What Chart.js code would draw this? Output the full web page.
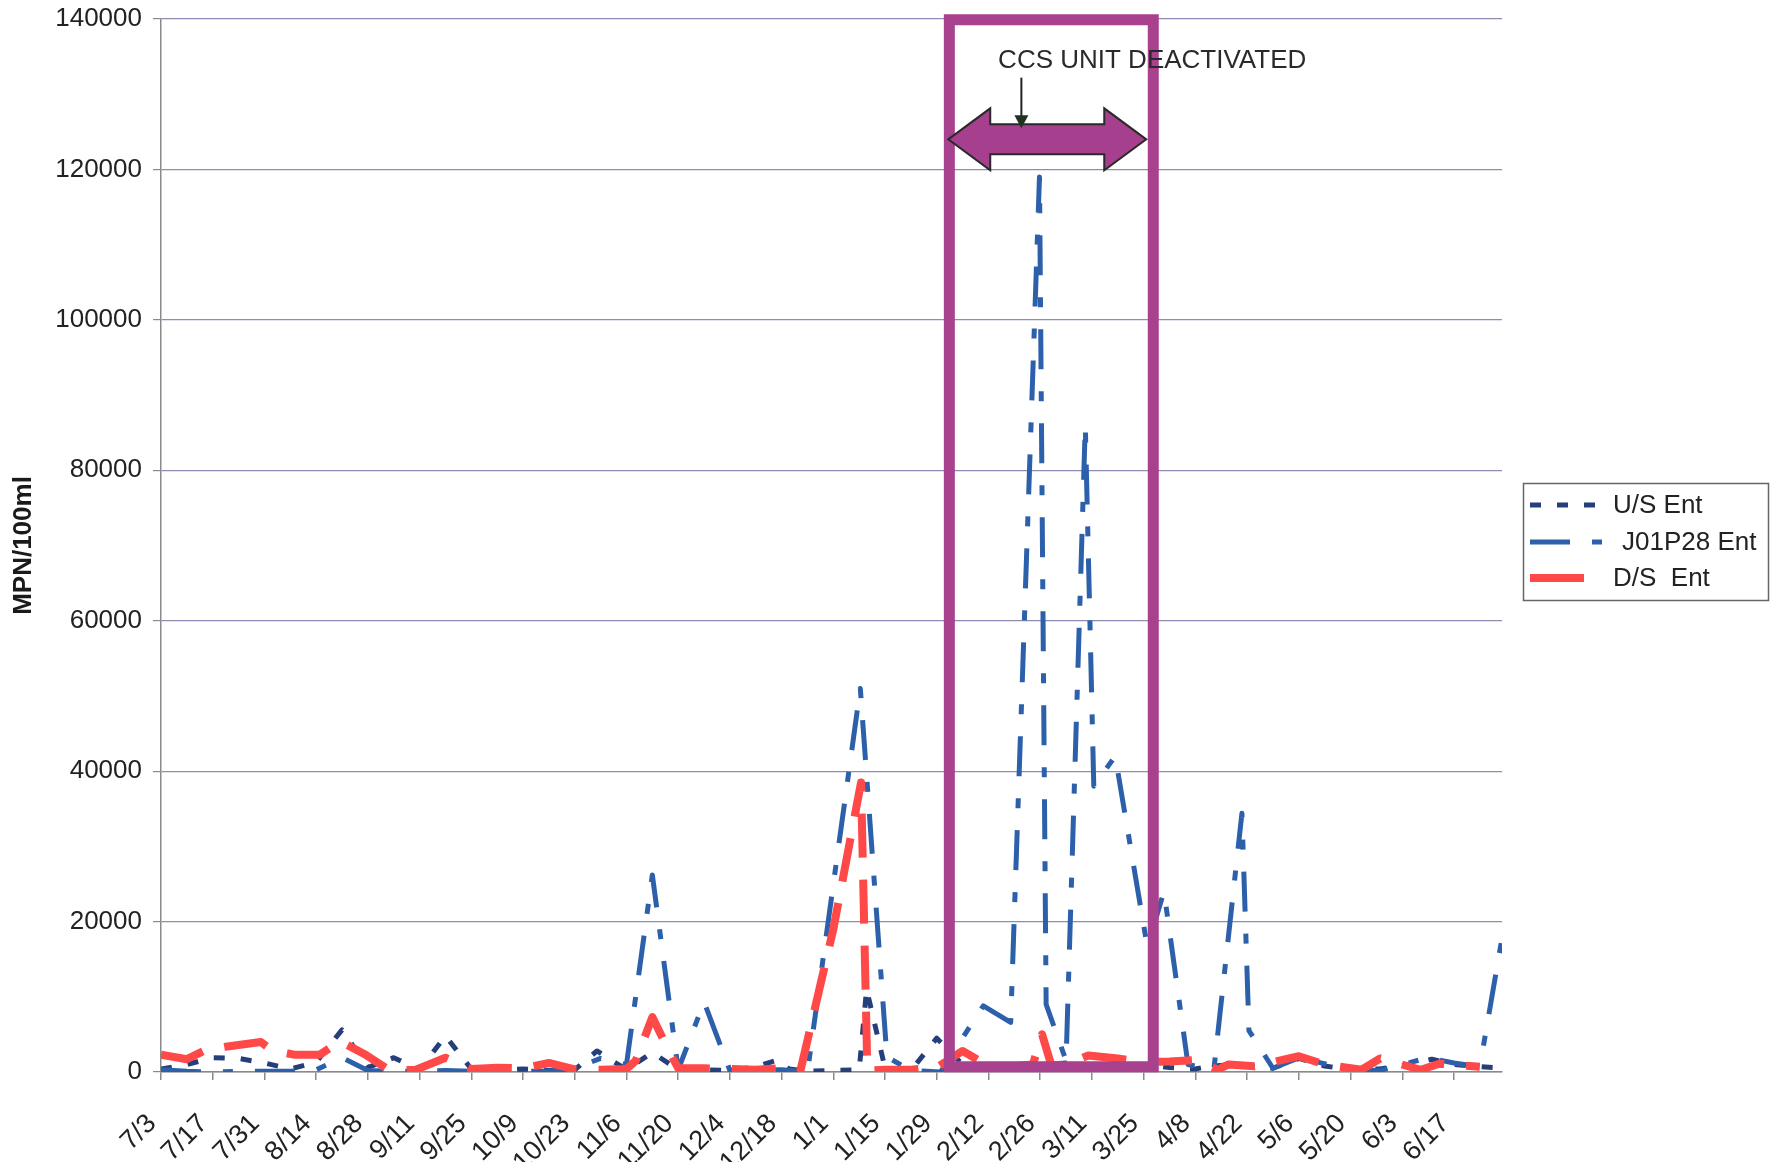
<!DOCTYPE html>
<html>
<head>
<meta charset="utf-8">
<script src="https://cdn.jsdelivr.net/npm/chart.js@4.4.1/dist/chart.umd.min.js"></script>
<style>
  html, body { margin: 0; padding: 0; background: #fff; }
  canvas { display: block; }
</style>
</head>
<body>
<canvas id="myChart" width="1775" height="1162"></canvas>
<script>
// x values are days counted from 7/3; tick labels every 14 days
var tickLabels = ["7/3", "7/17", "7/31", "8/14", "8/28", "9/11", "9/25", "10/9", "10/23", "11/6", "11/20", "12/4", "12/18",
    "1/1", "1/15", "1/29", "2/12", "2/26", "3/11", "3/25", "4/8", "4/22", "5/6", "5/20", "6/3", "6/17"];

var usDays = [0, 7, 14, 21, 28, 35, 42, 49, 56, 63, 70, 77, 84, 91, 98, 105, 112, 118, 126, 133, 140, 147, 154, 161, 167, 170,
    175, 182, 189, 191, 196, 203, 210, 217, 224, 231, 238, 245, 252, 259, 266, 273, 280, 284, 292, 301, 308, 315, 322, 330,
    337, 344, 350, 357, 363];
var usVals = [400, 1000, 1900, 1800, 1200, 400, 1300, 5600, 600, 1900, 300, 4800, 400, 200, 400, 200, 300, 2800, 300, 2600, 300,
    300, 200, 700, 1600, 400, 100, 200, 300, 11000, 500, 200, 4500, 1000, 800, 700, 900, 1200, 800, 1000, 1000, 600, 400, 800,
    1000, 500, 1800, 800, 300, 400, 900, 1700, 1000, 700, 500];

var jDays = [0, 7, 14, 21, 28, 35, 42, 49, 56, 63, 70, 77, 84, 91, 98, 105, 112, 119, 126, 133, 140, 147, 154, 161, 168, 175,
    189.3, 196.5, 203, 211, 222.6, 230, 237.8, 239.6, 245, 250.2, 252.5, 258.3, 267, 271.5, 278, 285, 292.6, 294.5, 301, 308,
    322, 330, 343, 350, 357, 363];
var jVals = [300, 100, 0, 100, 100, 100, 300, 1900, 200, 100, 100, 200, 100, 100, 100, 100, 500, 1800, 1000, 26200, 300, 9300,
    200, 300, 300, 0, 51000, 2000, 200, 0, 8800, 6600, 119000, 9000, 1500, 86000, 38000, 42000, 16600, 24000, 1000, 300, 34400,
    5500, 500, 1900, 300, 200, 1900, 1200, 700, 17800];

var dsDays = [0, 7, 12, 18, 27, 30, 36, 43, 48.5, 55, 62, 69, 77, 84, 91, 98, 105, 112, 119, 126, 128.5, 133, 137.5, 140, 147,
    154, 161, 168, 173, 182, 189.5, 191.2, 196, 203, 210, 217, 224, 231, 236, 238.5, 241, 245, 251, 259, 266, 273, 280, 286,
    289, 296, 308, 315, 325, 330, 341, 346, 357];
var dsVals = [2300, 1700, 2900, 3400, 4000, 2900, 2300, 2300, 4100, 2400, 200, 300, 1900, 400, 550, 500, 1200, 350, 300, 400,
    1500, 7300, 2800, 500, 500, 400, 300, 500, 0, 19000, 38500, 200, 300, 300, 600, 2800, 800, 800, 1000, 5000, 900, 1000, 2200,
    1800, 1300, 1400, 1600, 300, 1000, 750, 2100, 1000, 300, 1800, 300, 1100, 700];

function points(days, vals) {
    return days.map(function (d, i) { return { x: d, y: vals[i] }; });
}

var fontFamily = '"Liberation Sans", Arial, sans-serif';
Chart.defaults.font.family = fontFamily;
Chart.defaults.color = '#222';

var ccsBox = {
    id: 'ccsBox',
    afterDatasetsDraw: function (chart) {
        var ctx = chart.ctx, x = chart.scales.x, y = chart.scales.y;
        var left = x.getPixelForValue(213.4), right = x.getPixelForValue(268.6);
        var top = y.getPixelForValue(139900), bottom = y.getPixelForValue(700);
        ctx.save();
        ctx.strokeStyle = '#a8428f';
        ctx.lineWidth = 11;
        ctx.strokeRect(left, top, right - left, bottom - top);

        // double headed arrow
        var ax0 = x.getPixelForValue(213.1), ax1 = x.getPixelForValue(266.7);
        var ay = y.getPixelForValue(124000);
        var head = 42, hh = 31, sh = 15;
        ctx.beginPath();
        ctx.moveTo(ax0, ay);
        ctx.lineTo(ax0 + head, ay - hh);
        ctx.lineTo(ax0 + head, ay - sh);
        ctx.lineTo(ax1 - head, ay - sh);
        ctx.lineTo(ax1 - head, ay - hh);
        ctx.lineTo(ax1, ay);
        ctx.lineTo(ax1 - head, ay + hh);
        ctx.lineTo(ax1 - head, ay + sh);
        ctx.lineTo(ax0 + head, ay + sh);
        ctx.lineTo(ax0 + head, ay + hh);
        ctx.closePath();
        ctx.fillStyle = '#a63f8d';
        ctx.fill();
        ctx.lineWidth = 2;
        ctx.strokeStyle = '#2a2a2a';
        ctx.stroke();

        ctx.font = '26px ' + fontFamily;
        ctx.fillStyle = '#2a2a2a';
        ctx.textBaseline = 'middle';
        ctx.textAlign = 'left';
        ctx.fillText('CCS UNIT DEACTIVATED', x.getPixelForValue(226.6), y.getPixelForValue(134500));

        // small pointer
        var px = x.getPixelForValue(232.9);
        var py0 = y.getPixelForValue(132200), tip = ay - sh + 4;
        ctx.beginPath();
        ctx.moveTo(px, py0);
        ctx.lineTo(px, tip - 10);
        ctx.lineWidth = 2;
        ctx.strokeStyle = '#222';
        ctx.stroke();
        ctx.beginPath();
        ctx.moveTo(px - 7, tip - 13);
        ctx.lineTo(px + 7, tip - 13);
        ctx.lineTo(px, tip);
        ctx.closePath();
        ctx.fillStyle = '#1f3320';
        ctx.fill();
        ctx.restore();
    }
};

var sideLegend = {
    id: 'sideLegend',
    afterDraw: function (chart) {
        var ctx = chart.ctx;
        var bx = 1523, by = 483, bw = 245, bh = 117;
        var rows = [505, 542, 578];
        var textX = [1613, 1622, 1613];
        var names = ['U/S Ent', 'J01P28 Ent', 'D/S  Ent'];
        var lens = [72, 72, 54];
        ctx.save();
        ctx.strokeStyle = '#666';
        ctx.lineWidth = 1.5;
        ctx.strokeRect(bx + 0.5, by + 0.5, bw, bh);
        chart.data.datasets.forEach(function (ds, i) {
            ctx.beginPath();
            ctx.setLineDash(i === 2 ? [] : ds.borderDash);
            ctx.lineWidth = ds.borderWidth;
            ctx.strokeStyle = ds.borderColor;
            ctx.moveTo(1530, rows[i]);
            ctx.lineTo(1530 + lens[i], rows[i]);
            ctx.stroke();
            ctx.setLineDash([]);
            ctx.font = '26px ' + fontFamily;
            ctx.fillStyle = '#222';
            ctx.textBaseline = 'middle';
            ctx.fillText(names[i], textX[i], rows[i] + 1);
        });
        ctx.restore();
    }
};

var ctx = document.getElementById("myChart");

var myChart = new Chart(ctx, {
    type: 'line',
    data: {
        datasets: [
            {
                label: 'U/S Ent',
                data: points(usDays, usVals),
                borderColor: '#243f7a',
                borderWidth: 5,
                borderDash: [11, 16],
                borderJoinStyle: 'round',
                pointRadius: 0,
                tension: 0,
                order: 3
            },
            {
                label: 'J01P28 Ent',
                data: points(jDays, jVals),
                borderColor: '#2d60aa',
                borderWidth: 5,
                borderDash: [40, 22, 10, 22],
                borderJoinStyle: 'round',
                pointRadius: 0,
                tension: 0,
                order: 2
            },
            {
                label: 'D/S  Ent',
                data: points(dsDays, dsVals),
                borderColor: '#ff4848',
                borderWidth: 8,
                borderDash: [44, 22],
                borderJoinStyle: 'round',
                pointRadius: 0,
                tension: 0,
                order: 1
            }
        ]
    },
    options: {
        responsive: false,
        animation: false,
        layout: { padding: { left: 0, right: 273, top: 19, bottom: 0 } },
        plugins: {
            legend: { display: false },
            tooltip: { enabled: false }
        },
        scales: {
            x: {
                type: 'linear',
                min: 0,
                max: 363,
                border: { color: '#8a8a8a', width: 1.5 },
                grid: { drawOnChartArea: false, drawTicks: true, tickLength: 8, color: '#8a8a8a', lineWidth: 1.5 },
                ticks: {
                    stepSize: 14,
                    includeBounds: false,
                    autoSkip: false,
                    maxRotation: 45,
                    minRotation: 45,
                    padding: 28,
                    labelOffset: -9,
                    font: { size: 27 },
                    color: '#222',
                    callback: function (v) { return tickLabels[Math.round(v / 14)] || ''; }
                },
                afterFit: function (s) { s.height = 90; s.paddingTop = 0; }
            },
            y: {
                min: 0,
                max: 140000,
                border: { color: '#8a8a8a', width: 1.5 },
                grid: { color: '#8c8cb4', lineWidth: 1.2, tickLength: 8, tickColor: '#8a8a8a' },
                ticks: {
                    stepSize: 20000,
                    padding: 11,
                    font: { size: 26 },
                    color: '#222',
                    callback: function (v) { return String(v); }
                },
                title: {
                    display: true,
                    text: 'MPN/100ml',
                    font: { size: 26, weight: 'bold' },
                    color: '#1a1a1a',
                    padding: { top: 8, bottom: 0 }
                },
                afterFit: function (s) { s.width = 161; s.paddingTop = 0; s.paddingBottom = 0; }
            }
        }
    },
    plugins: [ccsBox, sideLegend]
});
</script>
</body>
</html>
